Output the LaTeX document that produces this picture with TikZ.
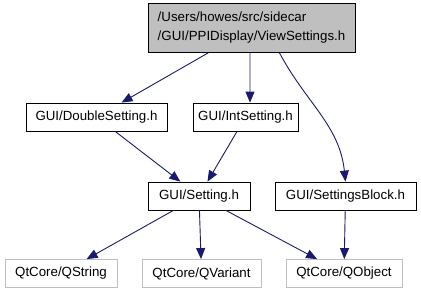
\documentclass[tikz,border=0pt]{standalone}
\usepackage{fontspec}
\setmainfont{Liberation Sans}
\usetikzlibrary{arrows.meta}
\definecolor{edgeblue}{HTML}{191970}
\definecolor{boxgray}{HTML}{BFBFBF}

\begin{document}
\begin{tikzpicture}[x=1bp, y=-1bp,
  file/.style={draw=black, line width=0.8bp, inner sep=0pt, minimum height=28bp,
    font=\fontsize{13.3bp}{19bp}\selectfont},
  qtfile/.style={file, draw=boxgray},
  incl/.style={draw=edgeblue, line width=0.9bp, -{Triangle[length=11bp, width=9bp]}}]
\useasboundingbox (0,0) rectangle (421,295);

\node[file, fill=boxgray, align=left, minimum width=207bp, minimum height=49bp] (view) at (251.5,28) {/Users/howes/src/sidecar\\/GUI/PPIDisplay/ViewSettings.h};
\node[file, minimum width=141bp] (dbl) at (96.5,117) {GUI/DoubleSetting.h};
\node[file, minimum width=105bp] (int) at (245.5,117) {GUI/IntSetting.h};
\node[file, minimum width=102bp] (setting) at (199,196) {GUI/Setting.h};
\node[file, minimum width=141bp] (block) at (345.5,196) {GUI/SettingsBlock.h};
\node[qtfile, minimum width=112bp] (qstring) at (61,273.5) {QtCore/QString};
\node[qtfile, minimum width=119bp] (qvariant) at (201.5,273.5) {QtCore/QVariant};
\node[qtfile, minimum width=116bp] (qobject) at (344,273.5) {QtCore/QObject};

\draw[incl] (view) -- (dbl);
\draw[incl] ([xshift=-1.5bp]view.south) -- ([xshift=4.5bp]int.north);
\draw[incl] ([xshift=28bp]view.south) to[out=-62, in=96] (block.north);
\draw[incl] (dbl) -- (setting);
\draw[incl] (int) -- (setting);
\draw[incl] (setting) -- (qstring);
\draw[incl] (setting) -- (qvariant);
\draw[incl] (setting) -- (qobject);
\draw[incl] (block) -- (qobject);
\end{tikzpicture}
\end{document}
